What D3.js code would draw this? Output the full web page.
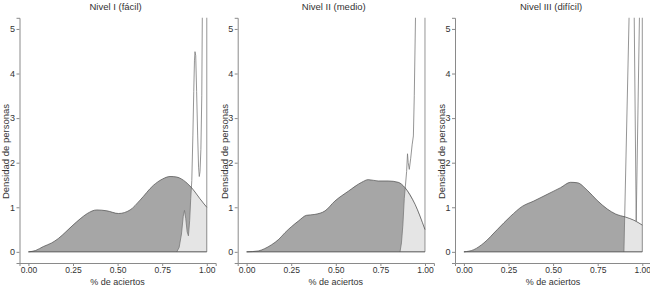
<!DOCTYPE html>
<html>
<head>
<meta charset="utf-8">
<script src="https://cdn.jsdelivr.net/npm/d3@7"></script>
<style>
  body { margin: 0; background: #fff; }
  text { font-family: "Liberation Sans Narrow", "Liberation Sans", sans-serif; fill: #333; }
</style>
</head>
<body>
<div id="chart"></div>
<script>
// titulos de los paneles
var titles = ["Nivel I (fácil)", "Nivel II (medio)", "Nivel III (difícil)"];
var xTicks = [0, 0.25, 0.5, 0.75, 1];
var yTicks = [0, 1, 2, 3, 4, 5];

// densidad (gris oscuro) por nivel: [x, y]
var darkI = [[0,0],[0.04,0.03],[0.084,0.12],[0.13,0.2],[0.168,0.3],[0.21,0.45],[0.25,0.6],[0.29,0.74],
  [0.33,0.86],[0.383,0.94],[0.44,0.92],[0.505,0.86],[0.57,0.94],[0.626,1.16],[0.7,1.49],[0.75,1.63],
  [0.794,1.69],[0.83,1.68],[0.86,1.63],[0.9,1.5],[0.925,1.39],[0.96,1.2],[1,1]];
var darkII = [[0,0],[0.065,0.02],[0.1,0.07],[0.14,0.16],[0.18,0.28],[0.215,0.43],[0.25,0.56],[0.29,0.69],
  [0.336,0.82],[0.383,0.84],[0.44,0.92],[0.495,1.14],[0.57,1.36],[0.645,1.56],[0.682,1.62],[0.738,1.59],
  [0.794,1.59],[0.85,1.56],[0.888,1.44],[0.944,1.07],[1,0.5]];
var darkIII = [[0,0],[0.056,0.05],[0.112,0.2],[0.187,0.5],[0.262,0.8],[0.327,1.02],[0.392,1.14],[0.467,1.29],
  [0.542,1.44],[0.598,1.56],[0.636,1.55],[0.692,1.38],[0.748,1.15],[0.804,0.96],[0.85,0.85],[0.906,0.78],
  [0.953,0.71],[1,0.6]];

// densidad (gris claro) por nivel, se sale por arriba
var lightI = [[0.832,0],[0.845,0.1],[0.858,0.4],[0.868,0.8],[0.875,0.93],[0.882,0.75],[0.89,0.45],[0.897,0.36],
  [0.904,0.7],[0.91,1.2],[0.916,1.6],[0.922,2.6],[0.927,3.6],[0.931,4.3],[0.934,4.49],[0.938,4.4],
  [0.943,3.6],[0.949,2.6],[0.954,1.9],[0.958,1.69],[0.962,1.8],[0.967,2.3],[0.972,3.5],[0.975,5.3],
  [0.978,7],[1,7],[1,0]];
var lightII = [[0.86,0],[0.868,0.2],[0.876,0.6],[0.884,1.2],[0.89,1.47],[0.897,1.8],[0.902,2.2],[0.906,2.0],
  [0.912,1.85],[0.92,2.1],[0.928,2.4],[0.935,2.6],[0.94,3.5],[0.947,5.3],[0.95,7],[1,7],[1,0]];
var lightIII = [[0.897,0],[0.93,6],[0.953,6],[0.966,0.69],[0.987,6],[1,6],[1,0]];

var darkSets = [darkI, darkII, darkIII];
var lightSets = [lightI, lightII, lightIII];

var W = 650, H = 286;
var panelLeft = [19.5, 237.7, 455];
var panelW = 196.2;
var plotTop = 17.8, plotBottom = 263;

var svg = d3.select("#chart").append("svg")
  .attr("width", W).attr("height", H);

function interp(data, x) {
  for (var i = 1; i < data.length; i++) {
    if (data[i][0] >= x) {
      var a = data[i-1], b = data[i];
      return a[1] + (b[1]-a[1]) * (x-a[0]) / (b[0]-a[0]);
    }
  }
  return data[data.length-1][1];
}

// area clara: curva clara hasta cruzar la oscura, luego la oscura hasta x=1
function lightFill(light, dark) {
  var pts = [];
  for (var i = 0; i < light.length; i++) {
    var p = light[i];
    var d = interp(dark, p[0]);
    if (i > 0 && p[1] >= d) {
      var q = light[i-1];
      var dq = interp(dark, q[0]);
      var t = (dq - q[1]) / ((p[1]-q[1]) - (d-dq));
      var cx = q[0] + t*(p[0]-q[0]);
      pts.push([cx, interp(dark, cx)]);
      dark.filter(function(e){ return e[0] > cx; }).forEach(function(e){ pts.push(e); });
      pts.push([1, 0]);
      return pts;
    }
    pts.push(p);
  }
  return pts;
}

titles.forEach(function(title, k) {
  var x = d3.scaleLinear().domain([-0.05, 1.05]).range([panelLeft[k], panelLeft[k] + panelW]);
  var y = d3.scaleLinear().domain([-0.25, 5.25]).range([plotBottom, plotTop]);
  var g = svg.append("g");

  g.append("clipPath").attr("id", "clip" + k)
    .append("rect").attr("x", panelLeft[k]).attr("y", plotTop)
    .attr("width", panelW).attr("height", plotBottom - plotTop);

  var plot = g.append("g").attr("clip-path", "url(#clip" + k + ")");
  var dark = darkSets[k], light = lightSets[k];

  var area = d3.area().x(function(d){ return x(d[0]); }).y0(y(0)).y1(function(d){ return y(d[1]); })
    .curve(d3.curveMonotoneX);
  plot.append("path").datum(dark).attr("d", area).attr("fill", "#a6a6a6");

  var line = d3.line().x(function(d){ return x(d[0]); }).y(function(d){ return y(d[1]); });
  plot.append("path").attr("d", line(lightFill(light, dark)) + "Z")
    .attr("fill", "#e5e5e5");
  plot.append("path").attr("d", line(light))
    .attr("fill", "none").attr("stroke", "#7a7a7a").attr("stroke-width", 0.8);
  plot.append("path").attr("d", d3.line().x(function(d){ return x(d[0]); }).y(function(d){ return y(d[1]); })
      .curve(d3.curveMonotoneX)(dark))
    .attr("fill", "none").attr("stroke", "#4a4a4a").attr("stroke-width", 0.7);
  plot.append("line").attr("x1", x(0)).attr("x2", x(1)).attr("y1", y(0)).attr("y2", y(0))
    .attr("stroke", "#4a4a4a").attr("stroke-width", 0.9);

  // ejes
  var ax = g.append("g").attr("transform", "translate(0," + plotBottom + ")")
    .call(d3.axisBottom(x).tickValues(xTicks).tickFormat(d3.format(".2f")).tickSize(3).tickPadding(1));
  var ay = g.append("g").attr("transform", "translate(" + panelLeft[k] + ",0)")
    .call(d3.axisLeft(y).tickValues(yTicks).tickFormat(d3.format("d")).tickSize(3).tickPadding(1.5));
  [ax, ay].forEach(function(a) {
    a.select(".domain").attr("stroke", "#8a8a8a");
    a.selectAll(".tick line").attr("stroke", "#8a8a8a");
    a.selectAll(".tick text").style("font-size", "8.5px").attr("fill", "#333");
  });
  ay.selectAll(".tick text").style("font-size", "9px");

  g.append("text").attr("x", panelLeft[k] + panelW / 2 - 2).attr("y", 10)
    .attr("text-anchor", "middle").style("font-size", "9.5px").text(title);
  g.append("text").attr("x", x(0.5)).attr("y", 285)
    .attr("text-anchor", "middle").style("font-size", "9px").text("% de aciertos");
  g.append("text").attr("transform", "translate(" + (panelLeft[k] - 13.5) + "," + y(2.25) + ") rotate(-90)")
    .attr("text-anchor", "middle").attr("dy", "0.35em").style("font-size", "9.5px").text("Densidad de personas");
});
</script>
</body>
</html>
